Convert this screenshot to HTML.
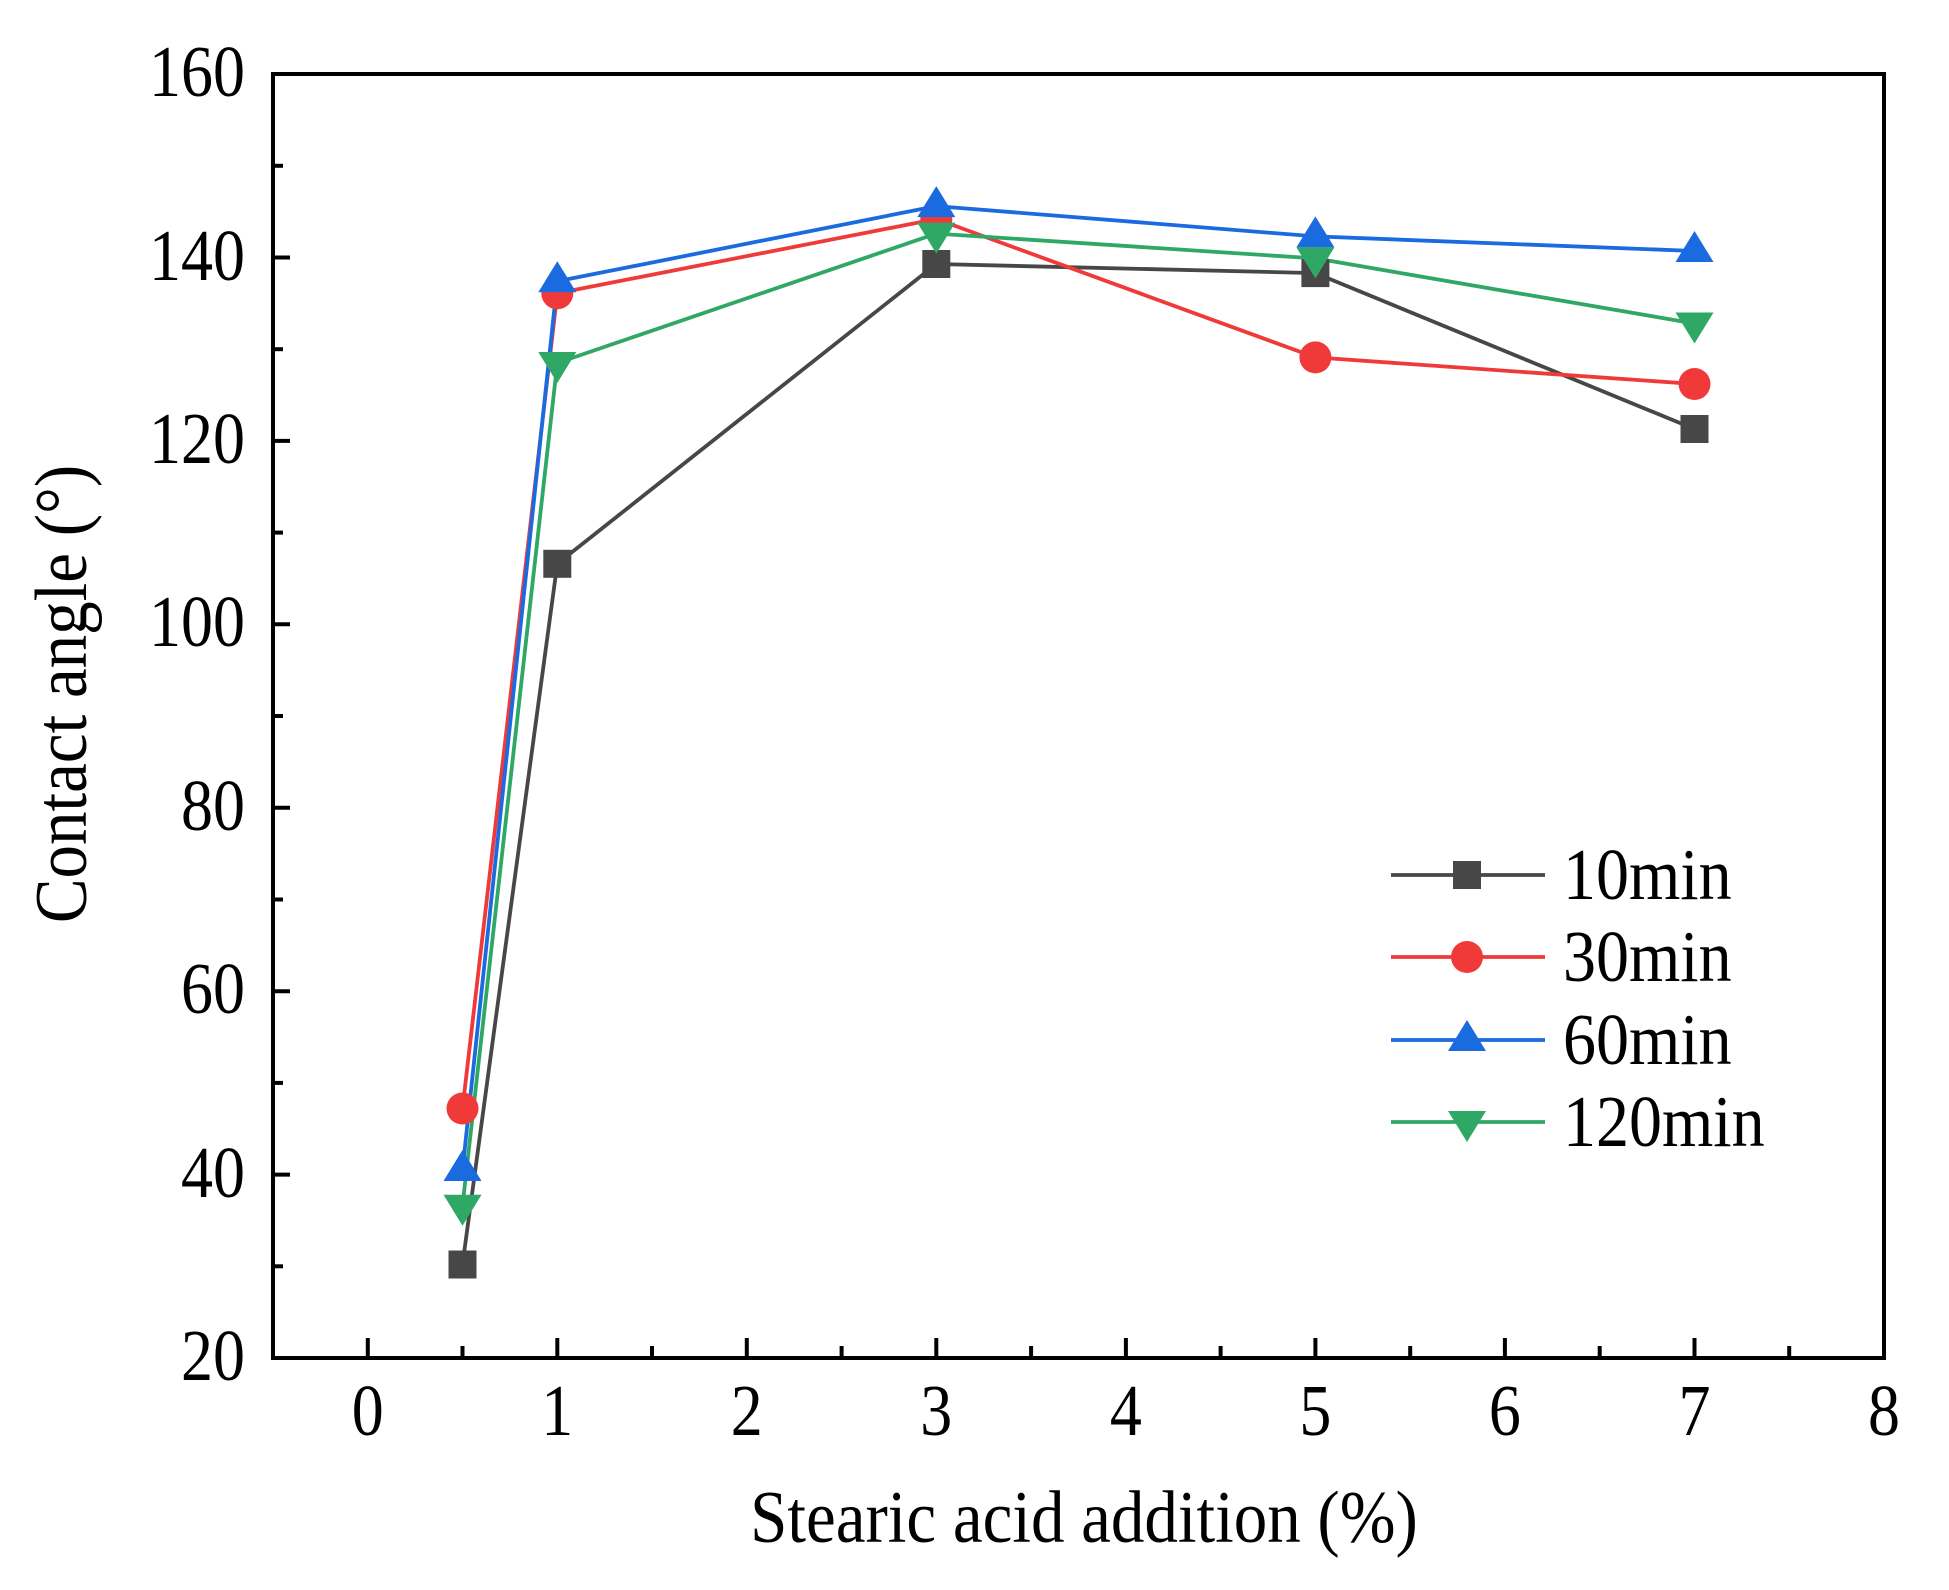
<!DOCTYPE html>
<html><head><meta charset="utf-8"><style>html,body{margin:0;padding:0;background:#fff}svg{display:block}text{font-family:"Liberation Serif",serif;fill:#000}</style></head>
<body>
<svg width="1949" height="1590" viewBox="0 0 1949 1590" xmlns="http://www.w3.org/2000/svg">
<defs>
<g id="sq"><rect x="-14" y="-14" width="28" height="28" fill="#474747"/></g>
<g id="ci"><circle r="16" fill="#f03a3a"/></g>
<g id="tu"><polygon points="0,-20 19,11 -19,11" fill="#1a6ae0"/></g>
<g id="td"><polygon points="0,20 19,-11 -19,-11" fill="#2fa866"/></g>
</defs>
<g stroke="#000" stroke-width="4">
<line x1="273" y1="1358" x2="290" y2="1358"/><line x1="273" y1="1174.6" x2="290" y2="1174.6"/><line x1="273" y1="991.2" x2="290" y2="991.2"/><line x1="273" y1="807.8" x2="290" y2="807.8"/><line x1="273" y1="624.3" x2="290" y2="624.3"/><line x1="273" y1="440.9" x2="290" y2="440.9"/><line x1="273" y1="257.5" x2="290" y2="257.5"/>
<line x1="273" y1="1266.3" x2="283" y2="1266.3"/><line x1="273" y1="1082.9" x2="283" y2="1082.9"/><line x1="273" y1="899.5" x2="283" y2="899.5"/><line x1="273" y1="716" x2="283" y2="716"/><line x1="273" y1="532.6" x2="283" y2="532.6"/><line x1="273" y1="349.2" x2="283" y2="349.2"/><line x1="273" y1="165.8" x2="283" y2="165.8"/>
<line x1="367.8" y1="1358" x2="367.8" y2="1338"/><line x1="557.3" y1="1358" x2="557.3" y2="1338"/><line x1="746.8" y1="1358" x2="746.8" y2="1338"/><line x1="936.3" y1="1358" x2="936.3" y2="1338"/><line x1="1125.9" y1="1358" x2="1125.9" y2="1338"/><line x1="1315.4" y1="1358" x2="1315.4" y2="1338"/><line x1="1504.9" y1="1358" x2="1504.9" y2="1338"/><line x1="1694.5" y1="1358" x2="1694.5" y2="1338"/>
<line x1="462.5" y1="1358" x2="462.5" y2="1346"/><line x1="652" y1="1358" x2="652" y2="1346"/><line x1="841.6" y1="1358" x2="841.6" y2="1346"/><line x1="1031.1" y1="1358" x2="1031.1" y2="1346"/><line x1="1220.6" y1="1358" x2="1220.6" y2="1346"/><line x1="1410.2" y1="1358" x2="1410.2" y2="1346"/><line x1="1599.7" y1="1358" x2="1599.7" y2="1346"/><line x1="1789.2" y1="1358" x2="1789.2" y2="1346"/>
</g>
<rect x="273" y="74" width="1611" height="1284" fill="none" stroke="#000" stroke-width="4"/>
<g font-size="64" text-anchor="end">
<text transform="translate(245,1380) scale(1,1.15)">20</text><text transform="translate(245,1197) scale(1,1.15)">40</text><text transform="translate(245,1013) scale(1,1.15)">60</text><text transform="translate(245,830) scale(1,1.15)">80</text><text transform="translate(245,646) scale(1,1.15)">100</text><text transform="translate(245,463) scale(1,1.15)">120</text><text transform="translate(245,280) scale(1,1.15)">140</text><text transform="translate(245,96) scale(1,1.15)">160</text>
</g>
<g font-size="64" text-anchor="middle">
<text transform="translate(367.8,1435) scale(1,1.15)">0</text><text transform="translate(557.3,1435) scale(1,1.15)">1</text><text transform="translate(746.8,1435) scale(1,1.15)">2</text><text transform="translate(936.3,1435) scale(1,1.15)">3</text><text transform="translate(1125.9,1435) scale(1,1.15)">4</text><text transform="translate(1315.4,1435) scale(1,1.15)">5</text><text transform="translate(1504.9,1435) scale(1,1.15)">6</text><text transform="translate(1694.5,1435) scale(1,1.15)">7</text><text transform="translate(1884,1435) scale(1,1.15)">8</text>
</g>
<text transform="translate(1084,1542) scale(1,1.1)" font-size="67" text-anchor="middle">Stearic acid addition (%)</text>
<text transform="translate(86,694) rotate(-90) scale(1,1.1)" font-size="67" text-anchor="middle">Contact angle (°)</text>
<g fill="none" stroke-width="3.8" stroke-linejoin="round">
<polyline stroke="#474747" points="462.5,1264.5 557.3,563.8 936.3,264 1315.4,273.1 1694.5,429"/>
<polyline stroke="#f03a3a" points="462.5,1108.5 557.3,293.3 936.3,219 1315.4,357.4 1694.5,384"/>
<polyline stroke="#1a6ae0" points="462.5,1170 557.3,281.3 936.3,206.1 1315.4,236.4 1694.5,251"/>
<polyline stroke="#2fa866" points="462.5,1205.8 557.3,363 936.3,233.6 1315.4,258.4 1694.5,323.5"/>
</g>
<use href="#sq" x="462.5" y="1264.5"/><use href="#sq" x="557.3" y="563.8"/><use href="#sq" x="936.3" y="264"/><use href="#sq" x="1315.4" y="273.1"/><use href="#sq" x="1694.5" y="429"/>
<use href="#ci" x="462.5" y="1108.5"/><use href="#ci" x="557.3" y="293.3"/><use href="#ci" x="936.3" y="219"/><use href="#ci" x="1315.4" y="357.4"/><use href="#ci" x="1694.5" y="384"/>
<use href="#tu" x="462.5" y="1170"/><use href="#tu" x="557.3" y="281.3"/><use href="#tu" x="936.3" y="206.1"/><use href="#tu" x="1315.4" y="236.4"/><use href="#tu" x="1694.5" y="251"/>
<use href="#td" x="462.5" y="1205.8"/><use href="#td" x="557.3" y="363"/><use href="#td" x="936.3" y="233.6"/><use href="#td" x="1315.4" y="258.4"/><use href="#td" x="1694.5" y="323.5"/>
<g stroke-width="3.8">
<line x1="1391" y1="875" x2="1545" y2="875" stroke="#474747"/>
<line x1="1391" y1="957" x2="1545" y2="957" stroke="#f03a3a"/>
<line x1="1391" y1="1040" x2="1545" y2="1040" stroke="#1a6ae0"/>
<line x1="1391" y1="1122" x2="1545" y2="1122" stroke="#2fa866"/>
</g>
<use href="#sq" x="1467" y="875"/><use href="#ci" x="1467" y="957"/><use href="#tu" x="1467" y="1040"/><use href="#td" x="1467" y="1122"/>
<g font-size="66">
<text transform="translate(1563,899) scale(1,1.1)">10min</text><text transform="translate(1563,981) scale(1,1.1)">30min</text><text transform="translate(1563,1064) scale(1,1.1)">60min</text><text transform="translate(1563,1146) scale(1,1.1)">120min</text>
</g>
</svg>
</body></html>
